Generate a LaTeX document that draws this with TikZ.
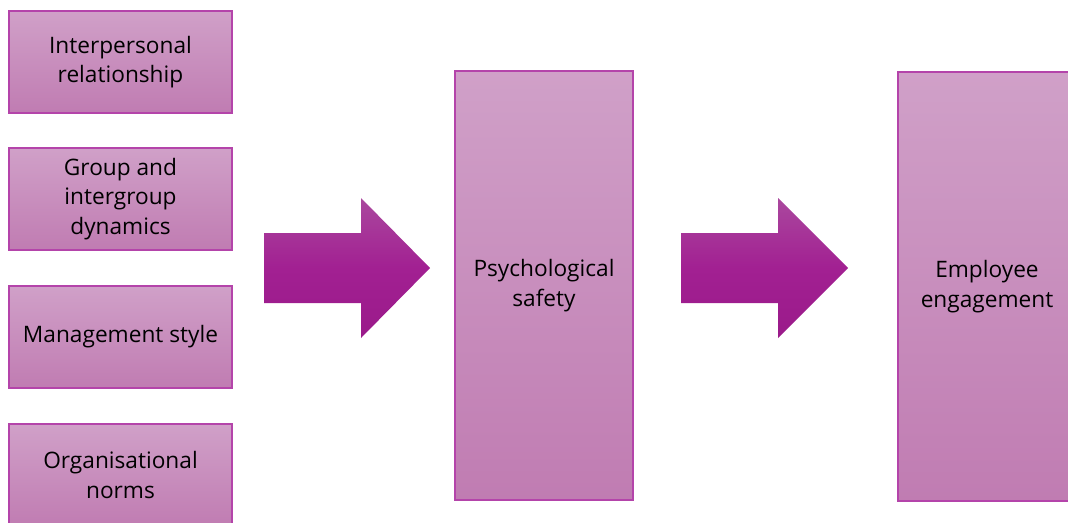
\documentclass[tikz,border=0pt]{standalone}
\usepackage{fontspec}
\setmainfont{Open Sans}
\definecolor{boxtop}{RGB}{208,160,200}
\definecolor{boxbot}{RGB}{192,124,178}
\definecolor{boxedge}{RGB}{180,68,170}
\definecolor{arrtop}{RGB}{170,72,158}
\definecolor{arrmid}{RGB}{162,32,146}
\definecolor{arrbot}{RGB}{154,26,138}
\begin{document}
\begin{tikzpicture}[x=0.75pt,y=-0.75pt,
  factor/.style={draw=boxedge,line width=0.9pt,top color=boxtop,bottom color=boxbot,
    minimum width=223*0.75pt,minimum height=102*0.75pt,inner sep=0pt,
    align=center,font=\fontsize{17}{22}\selectfont,text=black},
  stage/.style={factor,minimum width=178*0.75pt,minimum height=429*0.75pt},
  bigarrow/.style={top color=arrtop,bottom color=arrbot,middle color=arrmid,draw=none}]
\useasboundingbox (0,0) rectangle (1068,522);
\clip (0,0) rectangle (1068,522);
\node[factor] (ip) at (120.5,62) {Interpersonal\\relationship};
\node[factor] (gd) at (120.5,199) {Group and\\intergroup\\dynamics};
\node[factor] (ms) at (120.5,337) {Management style};
\node[factor] (on) at (120.5,475) {Organisational\\norms};
\node[stage] (ps) at (544,285.5) {Psychological\\safety};
\node[stage] (ee) at (987,286.5) {Employee\\engagement};
% block arrows between the stages
\shade[bigarrow] (264,233) -- (361,233) -- (361,198) -- (430,268) -- (361,338)
  -- (361,303) -- (264,303) -- cycle;
\shade[bigarrow] (681,233) -- (778,233) -- (778,198) -- (848,268) -- (778,338)
  -- (778,303) -- (681,303) -- cycle;
\end{tikzpicture}
\end{document}
